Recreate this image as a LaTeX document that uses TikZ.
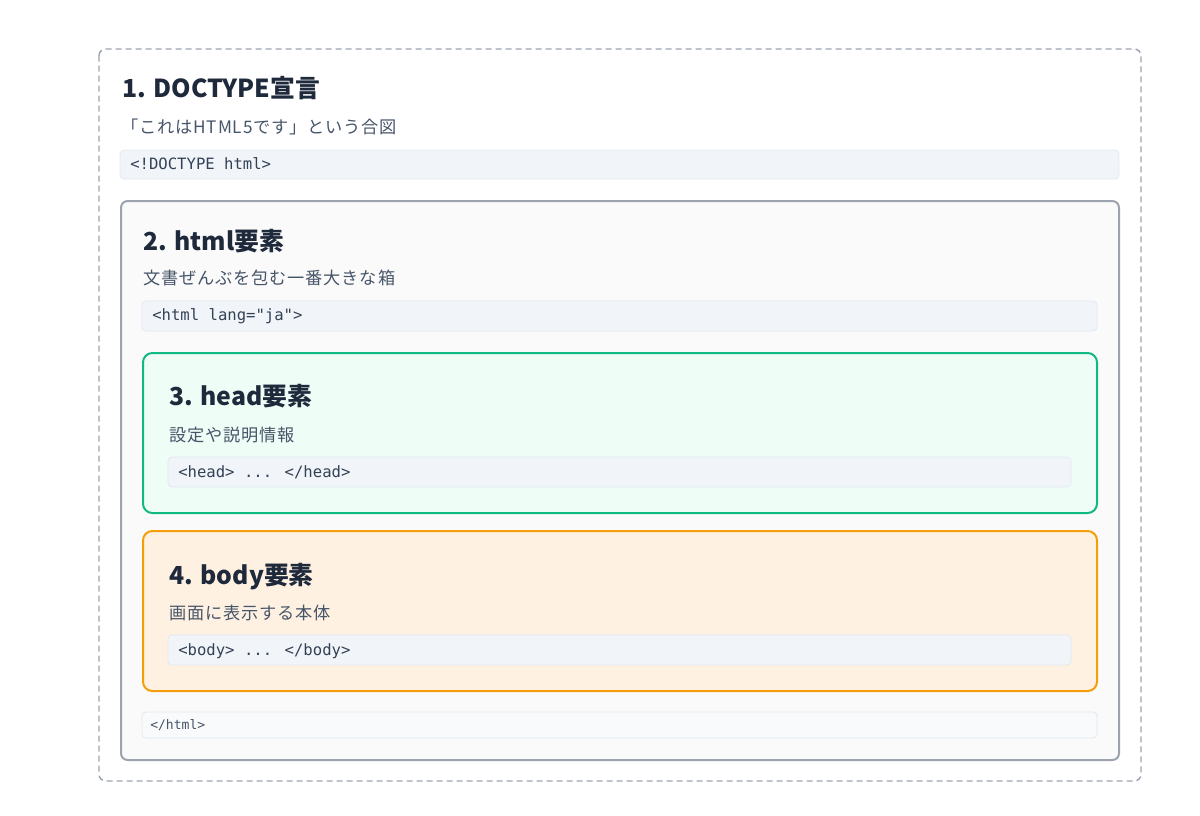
\documentclass[tikz,border=0pt]{standalone}
\usepackage{fontspec}
\setmainfont{Noto Sans CJK JP}
\newfontfamily\codefont{DejaVu Sans Mono}
\newfontfamily\notefont[LetterSpace=5]{Noto Sans CJK JP}
\usepackage{tikz}
\usetikzlibrary{positioning}

\definecolor{ink}{HTML}{1E293B}
\definecolor{subink}{HTML}{475569}
\definecolor{codeink}{HTML}{334155}
\definecolor{codefill}{HTML}{F1F5F9}
\definecolor{codeline}{HTML}{E2E8F0}
\definecolor{framegray}{HTML}{9CA3AF}
\definecolor{htmlfill}{HTML}{FAFAFA}
\definecolor{headline}{HTML}{10B981}
\definecolor{headfill}{HTML}{EEFDF5}
\definecolor{bodyline}{HTML}{F59E0B}
\definecolor{bodyfill}{HTML}{FEF1E1}
\definecolor{closefill}{HTML}{F8FAFC}

\tikzset{
  title/.style = {anchor = base west, inner sep = 0pt, text = ink, font = \fontsize{18.6}{22}\selectfont\bfseries},
  note/.style = {anchor = base west, inner sep = 0pt, text = subink, font = \notefont\fontsize{12.9}{15}\selectfont},
  code/.style = {anchor = base west, inner sep = 0pt, text = codeink, font = \codefont\fontsize{11.7}{14}\selectfont},
  codebox/.style = {fill = codefill, draw = codeline, line width = 0.6pt, rounded corners = 3pt},
}

\begin{document}
\begin{tikzpicture}[x = 0.75pt, y = -0.75pt]
\useasboundingbox (0,0) rectangle (1200,815);

% 1. doctype
\draw[framegray, line width = 1.1pt, dash pattern = on 4.5pt off 3pt, rounded corners = 5pt] (99,49) rectangle (1141,781);
\node[title] (doctitle) at (122,97) {1. DOCTYPE宣言};
\node[note] (docnote) at (121,133) {「これはHTML5です」という合図};
\draw[codebox] (120,150) rectangle (1119,179);
\node[code] (doccode) at (130,169) {<!DOCTYPE html>};

% 2. html
\draw[framegray, line width = 1.5pt, fill = htmlfill, rounded corners = 5pt] (121,201) rectangle (1119,760);
\node[title] (htmltitle) at (143,250) {2. html要素};
\node[note] (htmlnote) at (143,284) {文書ぜんぶを包む一番大きな箱};
\draw[codebox] (142,301) rectangle (1097,331);
\node[code] (htmlcode) at (152,320) {<html lang="ja">};

% 3. head
\draw[headline, line width = 1.5pt, fill = headfill, rounded corners = 7pt] (143,353) rectangle (1097,513);
\node[title] (headtitle) at (169,405) {3. head要素};
\node[note] (headnote) at (169,441) {設定や説明情報};
\draw[codebox] (168,457) rectangle (1071,487);
\node[code] (headcode) at (178,477) {<head> ... </head>};

% 4. body
\draw[bodyline, line width = 1.5pt, fill = bodyfill, rounded corners = 7pt] (143,531) rectangle (1097,691);
\node[title] (bodytitle) at (169,584) {4. body要素};
\node[note] (bodynote) at (169,619) {画面に表示する本体};
\draw[codebox] (168,635) rectangle (1071,665);
\node[code] (bodycode) at (178,655) {<body> ... </body>};

\draw[codebox, fill = closefill] (142,712) rectangle (1097,738);
\node[code, font = \codefont\fontsize{9.8}{12}\selectfont, text = subink] (closecode) at (150,729) {</html>};
\end{tikzpicture}
\end{document}
